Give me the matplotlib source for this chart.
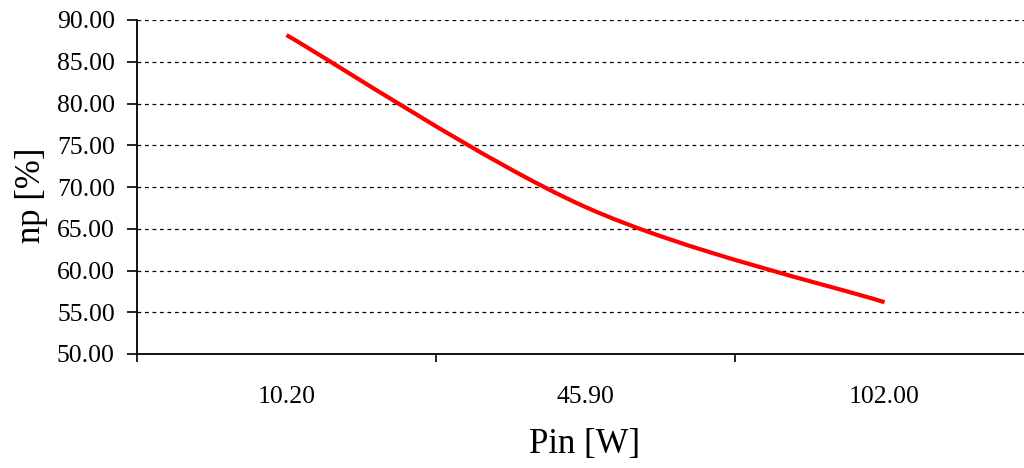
import matplotlib
matplotlib.use('Agg')
import numpy as np
import matplotlib.pyplot as plt
from matplotlib.path import Path
from matplotlib.patches import PathPatch
from matplotlib.ticker import FixedLocator, NullFormatter

# data
pin_labels = ['10.20', '45.90', '102.00']
np_values = [88.2, 67.6, 56.2]

plt.rcParams['font.family'] = ['Liberation Serif', 'DejaVu Serif']

fig = plt.figure(figsize=(10.24, 4.68), dpi=100)
ax = fig.add_axes([137 / 1024, 1 - 354 / 468, 897 / 1024, 334 / 468])

# smoothed line (Excel style bezier through the points)
x = np.arange(len(np_values), dtype=float)
pts = np.column_stack([x, np_values])
ext = np.vstack([pts[0], pts, pts[-1]])
verts = [tuple(pts[0])]
codes = [Path.MOVETO]
for i in range(len(pts) - 1):
    p_prev, p0, p1, p_next = ext[i], ext[i + 1], ext[i + 2], ext[i + 3]
    c1 = p0 + (p1 - p_prev) / 6
    c2 = p1 - (p_next - p0) / 6
    verts += [tuple(c1), tuple(c2), tuple(p1)]
    codes += [Path.CURVE4] * 3
ax.add_patch(PathPatch(Path(verts, codes), fill=False, edgecolor='#ff0000',
                       lw=3.0, capstyle='butt', joinstyle='round', zorder=3))

ax.set_xlim(-0.5, len(pin_labels) - 0.5)
ax.set_ylim(50, 90)

ax.set_yticks(np.arange(50, 90.1, 5))
ax.set_yticklabels([f'{v:.2f}' for v in np.arange(50, 90.1, 5)])
ax.xaxis.set_major_locator(FixedLocator(np.arange(-0.5, len(pin_labels), 1.0)))
ax.xaxis.set_major_formatter(NullFormatter())
ax.xaxis.set_minor_locator(FixedLocator(x))
ax.set_xticklabels(pin_labels, minor=True)

ax.tick_params(axis='y', which='major', length=7, width=1.2, pad=9, labelsize=18.5, direction='out')
ax.tick_params(axis='x', which='major', length=6, width=1.2, direction='out')
ax.tick_params(axis='x', which='minor', length=0, pad=23, labelsize=18.5)

ax.grid(axis='y', color='black', linestyle=(0, (3, 3)), linewidth=0.9)
ax.set_axisbelow(True)

for s in ['top', 'right']:
    ax.spines[s].set_visible(False)
ax.spines['left'].set_linewidth(1.3)
ax.spines['bottom'].set_linewidth(1.3)

ax.set_xlabel('Pin [W]', fontsize=25, va='center')
ax.xaxis.set_label_coords((585 - 137) / 897, -(445 - 354) / 334)
ax.set_ylabel('np [%]', fontsize=25, va='center')
ax.yaxis.set_label_coords((32 - 137) / 897, (354 - 195) / 334)

fig.savefig('out.png', dpi=100)
